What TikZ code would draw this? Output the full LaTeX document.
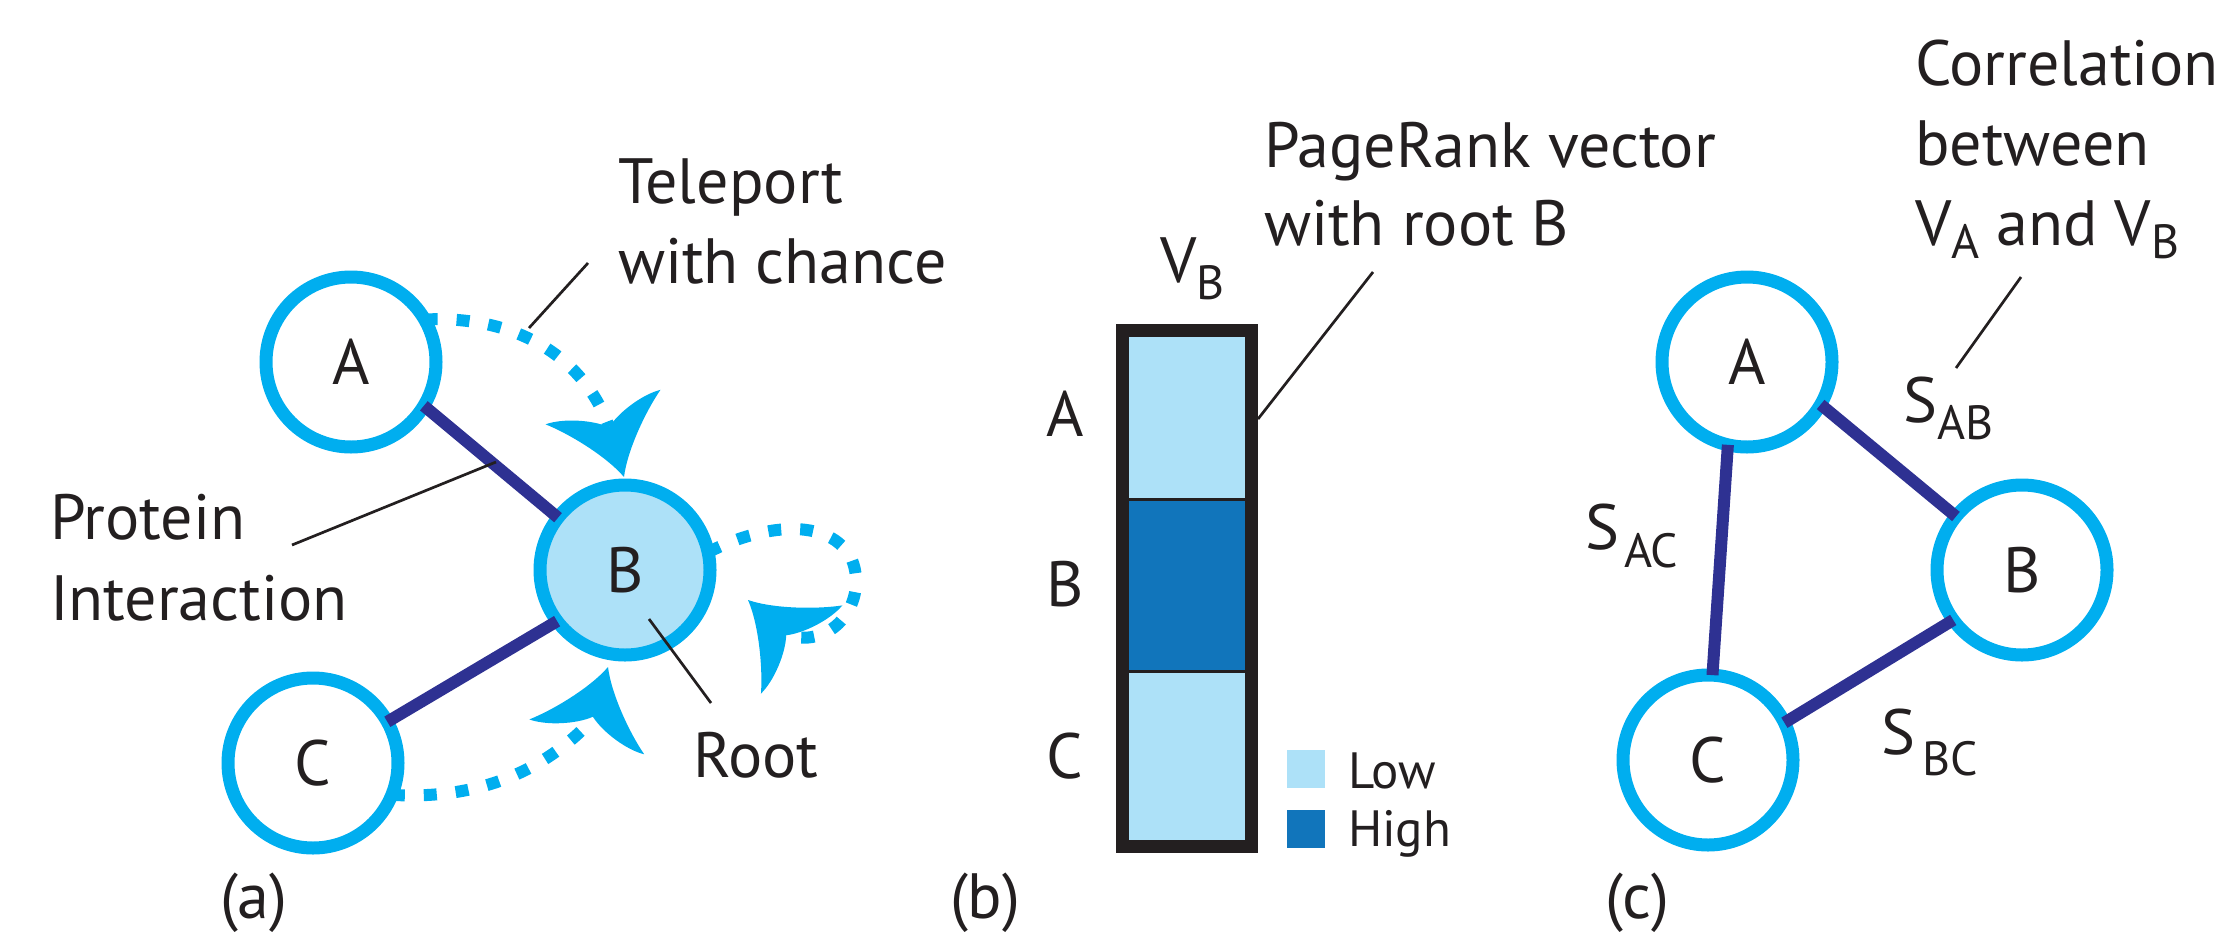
\documentclass[tikz,border=0pt]{standalone}
\usepackage{fontspec}
\setmainfont{PT Sans}
\usetikzlibrary{backgrounds}
\definecolor{cyanc}{HTML}{00AEEF}
\definecolor{lightc}{HTML}{ADE1F8}
\definecolor{edgec}{HTML}{2E3192}
\definecolor{highc}{HTML}{1175BB}
\definecolor{inkc}{HTML}{231F20}
\newcommand{\sbs}[2][-17bp]{\raisebox{#1}{\fontsize{48bp}{48bp}\selectfont #2}}
\begin{document}
\begin{tikzpicture}[x=1bp,y=-1bp,
  every node/.style={text=inkc, font=\fontsize{64bp}{80bp}\selectfont, inner sep=0pt, outer sep=0pt},
  vertex/.style={circle, draw=cyanc, line width=13bp, minimum size=170bp, inner sep=0pt, outer sep=0pt},
  edge/.style={draw=edgec, line width=12bp},
  tele/.style={draw=cyanc, line width=12bp, dash pattern=on 13bp off 19bp},
  leader/.style={draw=inkc, line width=2.7bp},
  lbl/.style={anchor=base west},
  cell/.style={rectangle, minimum width=116bp, inner sep=0pt},
  sq/.style={rectangle, minimum width=38bp, minimum height=38bp, inner sep=0pt},
  barb/.pic={\fill[cyanc] (0,0) .. controls (-25,11) and (-57,40) .. (-73,60)
     .. controls (-74,42) and (-64,14) .. (-52,0)
     .. controls (-64,-14) and (-74,-42) .. (-73,-60)
     .. controls (-57,-40) and (-25,-11) .. (0,0) -- cycle;}
]
\useasboundingbox (0,0) rectangle (2219,933);

% ---------- panel (a) ----------
\node[vertex] (A) at (351,362) {A};
\node[vertex, fill=lightc] (B) at (625,570) {B};
\node[vertex] (C) at (313,763) {C};
\draw[edge] (A.-31) -- (B.142);
\draw[edge] (C.29) -- (B.217);

\coordinate (tAB) at (624,477);
\coordinate (nAB) at (609,427);
\coordinate (tCB) at (608,667);
\coordinate (nCB) at (592,720);
\coordinate (tBB) at (748,600);
\coordinate (nBB) at (786,635);
\coordinate (loopR) at (852,560);

\begin{scope}[on background layer]
\draw[tele] (A.30) .. controls (520,315) and (585,360) .. (nAB);
\draw[tele] (C.-22) .. controls (480,800) and (545,770) .. (nCB);
\draw[tele] (B.12) .. controls (760,525) and (830,515) .. (loopR)
   .. controls (868,600) and (835,650) .. (nBB);
\end{scope}
\pic[rotate=-73.3] at (tAB) {barb};
\pic[rotate=73.1] at (tCB) {barb};
\pic[rotate=137.3] at (tBB) {barb};

\node[lbl] (tele1) at (618,203) {Teleport};
\node[lbl] (tele2) at (618,283) {with chance};
\coordinate (lt1) at (588,263);
\coordinate (lt2) at (529,328);
\draw[leader] (lt1) -- (lt2);

\node[lbl] (prot1) at (50,539) {Protein};
\node[lbl] (prot2) at (50,620) {Interaction};
\coordinate (lp1) at (292,545);
\coordinate (lp2) at (496,462);
\draw[leader] (lp1) -- (lp2);

\node[lbl] (root) at (693,777) {Root};
\coordinate (lr1) at (649,619);
\coordinate (lr2) at (711,703);
\draw[leader] (lr1) -- (lr2);

\node[lbl] (pa) at (220,918) {(a)};

% ---------- panel (b) ----------
\node[rectangle, draw=inkc, fill=inkc, line width=13bp, minimum width=129bp, minimum height=516bp] (vec) at (1187,588.5) {};
\node[cell, fill=lightc, minimum height=160.5bp] (cA) at (1187,417.25) {};
\node[cell, fill=highc, minimum height=169bp] (cB) at (1187,585) {};
\node[cell, fill=lightc, minimum height=167.5bp] (cC) at (1187,756.25) {};

\node[anchor=base] (la) at (1065,436) {A};
\node[anchor=base] (lb) at (1065,606) {B};
\node[anchor=base] (lc) at (1065,778) {C};
\node[lbl] (vb) at (1160,282) {V\sbs{B}};

\node[lbl] (pr1) at (1264,167) {PageRank vector};
\node[lbl] (pr2) at (1264,245) {with root B};
\coordinate (lv1) at (1258,419);
\coordinate (lv2) at (1373,272);
\draw[leader] (lv1) -- (lv2);

\node[sq, fill=lightc] (lo) at (1306,769) {};
\node[sq, fill=highc] (hi) at (1306,828.5) {};
\node[lbl, font=\fontsize{51bp}{51bp}\selectfont] (lot) at (1348,788) {Low};
\node[lbl, font=\fontsize{51bp}{51bp}\selectfont] (hit) at (1348,846) {High};

\node[lbl] (pb) at (950,918) {(b)};

% ---------- panel (c) ----------
\node[vertex] (A2) at (1747,362) {A};
\node[vertex] (B2) at (2022,570) {B};
\node[vertex] (C2) at (1708,760) {C};
\draw[edge] (A2.-30) -- (B2.141);
\draw[edge] (A2.-103) -- (C2.87);
\draw[edge] (C2.26) -- (B2.216);

\node[lbl] (sab) at (1903,422) {S\sbs{AB}};
\node[lbl] (sbc) at (1881,754) {S\hspace{7bp}\sbs[-21bp]{BC}};
\node[lbl] (sac) at (1585,549) {S\hspace{5bp}\sbs[-18bp]{AC}};

\node[lbl] (co1) at (1915,85) {Correlation};
\node[lbl] (co2) at (1915,165) {between};
\node[lbl] (co3) at (1915,245) {V\sbs[-13bp]{A} and V\sbs[-13bp]{B}};
\coordinate (lc1) at (2021,277);
\coordinate (lc2) at (1956,368);
\draw[leader] (lc1) -- (lc2);

\node[lbl] (pc) at (1605,918) {(c)};
\end{tikzpicture}
\end{document}
